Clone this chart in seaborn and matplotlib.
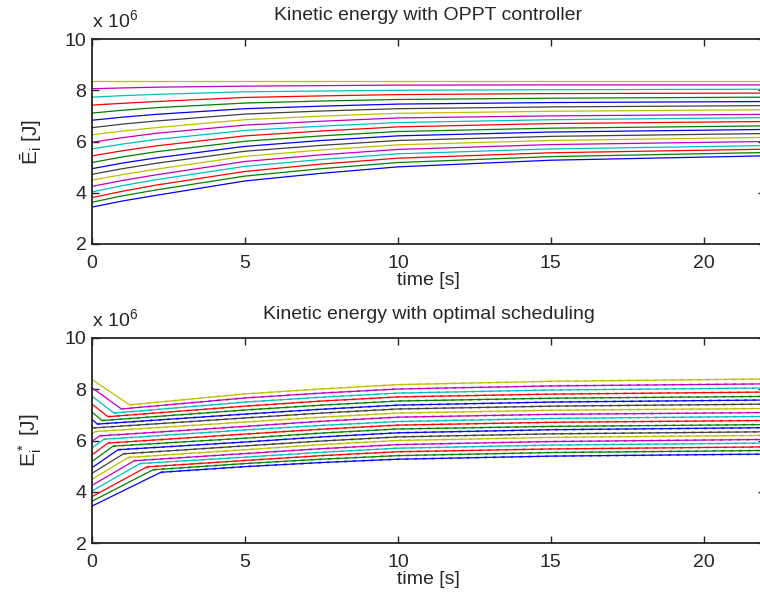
import numpy as np
import pandas as pd
import matplotlib
matplotlib.use("Agg")
import matplotlib.pyplot as plt
import seaborn as sns

# ---------------- data (energies in units of 1e6 J), lines listed bottom -> top
line_colors = ["#0000ff", "#008000", "#ff0000", "#00bfbf", "#bf00bf", "#bfbf00", "#404040"]

# OPPT controller (top panel) read at fixed times
top_times = [0, 1, 2.1, 5, 7.5, 10, 15, 22]
e_t0 = [3.44, 3.63, 3.81, 4.03, 4.25, 4.49, 4.72, 4.94, 5.18, 5.44,
        5.71, 5.97, 6.26, 6.54, 6.83, 7.11, 7.42, 7.73, 8.06, 8.38]
e_t1 = [3.68, 3.88, 4.06, 4.28, 4.48, 4.71, 4.94, 5.16, 5.40, 5.64,
        5.90, 6.15, 6.41, 6.68, 6.95, 7.22, 7.49, 7.79, 8.09, 8.38]
e_t2 = [3.90, 4.11, 4.30, 4.51, 4.70, 4.92, 5.15, 5.36, 5.60, 5.83,
        6.08, 6.32, 6.54, 6.80, 7.06, 7.32, 7.56, 7.84, 8.12, 8.38]
e_t5 = [4.46, 4.65, 4.83, 5.03, 5.22, 5.42, 5.62, 5.81, 6.01, 6.22,
        6.43, 6.64, 6.85, 7.07, 7.28, 7.50, 7.72, 7.94, 8.16, 8.38]
e_t7 = [4.76, 4.94, 5.12, 5.30, 5.48, 5.67, 5.85, 6.04, 6.22, 6.41,
        6.60, 6.79, 6.99, 7.19, 7.38, 7.58, 7.78, 7.97, 8.18, 8.38]
e_t10 = [5.01, 5.18, 5.35, 5.52, 5.69, 5.87, 6.04, 6.22, 6.39, 6.57,
         6.74, 6.92, 7.10, 7.28, 7.46, 7.64, 7.83, 8.00, 8.20, 8.38]
e_t15 = [5.27, 5.41, 5.56, 5.71, 5.88, 6.04, 6.20, 6.37, 6.52, 6.70,
         6.85, 7.00, 7.18, 7.35, 7.52, 7.69, 7.87, 8.02, 8.21, 8.38]
e_t22 = [5.44, 5.57, 5.70, 5.84, 6.00, 6.16, 6.31, 6.47, 6.61, 6.78,
         6.93, 7.06, 7.24, 7.40, 7.56, 7.73, 7.89, 8.04, 8.21, 8.38]

# optimal scheduling (bottom panel): start (same initial energies), corner, then fixed times
corner_t = [2.25, 2.00, 1.79, 1.57, 1.38, 1.19, 1.03, 0.85, 0.69, 0.52,
            0.39, 0.25, 0.11, 0.05, 0.17, 0.33, 0.52, 0.72, 0.96, 1.23]
corner_e = [4.76, 4.86, 4.97, 5.10, 5.21, 5.34, 5.48, 5.64, 5.78, 5.90,
            6.05, 6.18, 6.35, 6.49, 6.64, 6.78, 6.93, 7.07, 7.23, 7.39]
opt_times = [5, 7.5, 10, 15, 22]
s_t5 = [4.98, 5.10, 5.22, 5.35, 5.49, 5.64, 5.79, 5.94, 6.09, 6.25,
        6.41, 6.55, 6.72, 6.88, 7.03, 7.19, 7.34, 7.50, 7.66, 7.82]
s_t7 = [5.14, 5.27, 5.41, 5.54, 5.68, 5.84, 5.98, 6.14, 6.29, 6.44,
        6.59, 6.75, 6.91, 7.07, 7.22, 7.38, 7.54, 7.69, 7.85, 8.01]
s_t10 = [5.27, 5.41, 5.56, 5.70, 5.84, 6.00, 6.14, 6.30, 6.45, 6.60,
         6.74, 6.91, 7.07, 7.23, 7.38, 7.54, 7.70, 7.85, 8.01, 8.18]
s_t15 = [5.39, 5.53, 5.67, 5.82, 5.96, 6.12, 6.26, 6.42, 6.55, 6.71,
         6.86, 7.02, 7.18, 7.34, 7.50, 7.65, 7.81, 7.97, 8.13, 8.31]
s_t22 = [5.47, 5.61, 5.75, 5.90, 6.04, 6.20, 6.34, 6.50, 6.62, 6.78,
         6.94, 7.09, 7.25, 7.42, 7.58, 7.72, 7.89, 8.05, 8.21, 8.40]

titles = ["Kinetic energy with OPPT controller", "Kinetic energy with optimal scheduling"]
ylabels = [r"$\bar{E}_i$ [J]", r"$E_i^*$ [J]"]
xticks = [0, 5, 10, 15, 20]
yticks = [2, 4, 6, 8, 10]

# ---------------- build long-form tables
n = len(e_t0)
top_cols = [e_t0, e_t1, e_t2, e_t5, e_t7, e_t10, e_t15, e_t22]
rows = []
for i in range(n):
    for t, col in zip(top_times, top_cols):
        rows.append({"line": i, "time": t, "energy": col[i]})
df_top = pd.DataFrame(rows)

opt_cols = [s_t5, s_t7, s_t10, s_t15, s_t22]
rows = []
rows_tail = []
for i in range(n):
    rows.append({"line": i, "time": 0.0, "energy": e_t0[i]})
    rows.append({"line": i, "time": corner_t[i], "energy": corner_e[i]})
    rows_tail.append({"line": i, "time": corner_t[i], "energy": corner_e[i]})
    for t, col in zip(opt_times, opt_cols):
        rows.append({"line": i, "time": t, "energy": col[i]})
        rows_tail.append({"line": i, "time": t, "energy": col[i]})
df_bot = pd.DataFrame(rows)
df_tail = pd.DataFrame(rows_tail)

palette = {i: line_colors[i % 7] for i in range(n)}

# ---------------- plot
sns.set_style("ticks")
plt.rcParams["font.family"] = ["Liberation Sans", "DejaVu Sans"]
plt.rcParams["mathtext.fontset"] = "custom"
plt.rcParams["mathtext.rm"] = "Liberation Sans"
plt.rcParams["mathtext.it"] = "Liberation Sans"
plt.rcParams["mathtext.default"] = "regular"

fig = plt.figure(figsize=(7.6, 6.05), dpi=100)
W, H = 760.0, 605.0
ax_top = fig.add_axes([92 / W, 1 - 244 / H, (765 - 92) / W, 205 / H])
ax_bot = fig.add_axes([92 / W, 1 - 543 / H, (765 - 92) / W, 205 / H])

sns.lineplot(data=df_top, x="time", y="energy", hue="line", units="line",
             estimator=None, sort=False, palette=palette, legend=False,
             linewidth=0.9, ax=ax_top)
sns.lineplot(data=df_bot, x="time", y="energy", hue="line", units="line",
             estimator=None, sort=False, palette=palette, legend=False,
             linewidth=0.9, ax=ax_bot)
sns.lineplot(data=df_tail, x="time", y="energy", hue="line", units="line",
             estimator=None, sort=False, palette=palette, legend=False,
             linewidth=1.4, ax=ax_bot, alpha=0.6)
for ln in ax_bot.get_lines()[n:]:
    ln.set_dashes([1.5, 3.0])

for ax, title, ylab in zip([ax_top, ax_bot], titles, ylabels):
    ax.set_xlim(0, 22)
    ax.set_ylim(2, 10)
    ax.set_xticks(xticks)
    ax.set_yticks(yticks)
    ax.set_xlabel("time [s]", fontsize=14, labelpad=0)
    ax.set_ylabel(ylab, fontsize=15, labelpad=15)
    ax.set_title(title, fontsize=14, pad=14)
    ax.tick_params(direction="in", length=5, width=1, labelsize=14,
                   top=True, right=True)
    ax.tick_params(axis="x", pad=8)
    ax.tick_params(axis="y", pad=4)
    for s in ax.spines.values():
        s.set_linewidth(1.3)
        s.set_visible(True)
    ax.text(0, 1.04, r"x 10$^{6}$", transform=ax.transAxes, ha="left",
            va="bottom", fontsize=14)

fig.savefig("out.png", dpi=100)
